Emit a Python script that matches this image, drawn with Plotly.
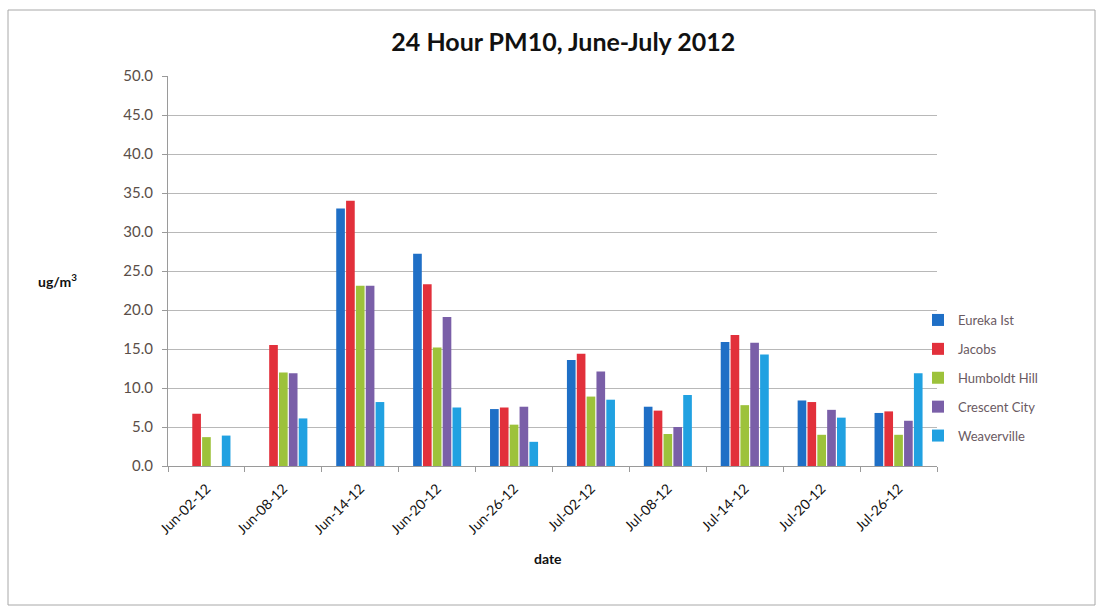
import plotly.graph_objects as go

# Sample dates (every 6 days)
dates = ["Jun-02-12", "Jun-08-12", "Jun-14-12", "Jun-20-12", "Jun-26-12",
         "Jul-02-12", "Jul-08-12", "Jul-14-12", "Jul-20-12", "Jul-26-12"]

# 24-hour PM10 concentrations, ug/m3 (None = no sample)
eureka_ist = [None, None, 33.0, 27.2, 7.3, 13.6, 7.6, 15.9, 8.4, 6.8]
jacobs = [6.7, 15.5, 34.0, 23.3, 7.5, 14.4, 7.1, 16.8, 8.2, 7.0]
humboldt_hill = [3.7, 12.0, 23.1, 15.2, 5.3, 8.9, 4.1, 7.8, 4.0, 4.0]
crescent_city = [None, 11.9, 23.1, 19.1, 7.6, 12.1, 5.0, 15.8, 7.2, 5.8]
weaverville = [3.9, 6.1, 8.2, 7.5, 3.1, 8.5, 9.1, 14.3, 6.2, 11.9]

series = [
    ("Eureka Ist", eureka_ist, "#1F6FC6"),
    ("Jacobs", jacobs, "#E2303B"),
    ("Humboldt Hill", humboldt_hill, "#9DC23B"),
    ("Crescent City", crescent_city, "#7A5FA8"),
    ("Weaverville", weaverville, "#21A1E1"),
]

W, H = 1105, 612
ML, MR, MT, MB = 168, 168, 76, 146
PW, PH = W - ML - MR, H - MT - MB

FONT = "Lato, Open Sans, sans-serif"

fig = go.Figure()
for i, (name, vals, color) in enumerate(series):
    fig.add_trace(go.Bar(
        x=dates, y=vals, name=name, marker_color=color,
        marker_line_width=0, legendgroup=f"g{i}",
    ))

def px_x(p):
    return (p - ML) / PW

def px_y(p):
    return (H - MB - p) / PH

fig.update_layout(
    width=W, height=H,
    margin=dict(l=ML, r=MR, t=MT, b=MB),
    paper_bgcolor="white", plot_bgcolor="white",
    barmode="group", bargap=0.36, bargroupgap=0.12,
    title=dict(text="<b>24 Hour PM10, June-July 2012</b>",
               x=px_x(560), xanchor="center", y=1 - 42 / H, yanchor="middle",
               font=dict(family=FONT, size=25, color="#111111")),
    showlegend=True,
    legend=dict(x=px_x(918), xanchor="left", y=px_y(305), yanchor="top",
                font=dict(family=FONT, size=13, color="#6A5A62"),
                tracegroupgap=9, itemwidth=30, bgcolor="rgba(0,0,0,0)"),
    xaxis=dict(type="category", showline=True, linecolor="#9A9A9A", linewidth=1,
               ticks="outside", tickson="boundaries", ticklen=5, tickcolor="#9A9A9A",
               tickangle=-45, showgrid=False, ticklabelstandoff=8,
               tickfont=dict(family=FONT, size=14, color="#111111")),
    yaxis=dict(range=[0, 50], dtick=5, tickformat=".1f", showline=True,
               linecolor="#9A9A9A", linewidth=1, ticks="outside", ticklen=5,
               tickcolor="#9A9A9A", showgrid=True, gridcolor="#B8B8B8", gridwidth=1,
               zeroline=False, ticklabelstandoff=6,
               tickfont=dict(family=FONT, size=15, color="#5A4E48")),
    annotations=[
        dict(text="<b>ug/m<sup>3</sup></b>", x=px_x(57), y=px_y(280), xref="paper", yref="paper",
             showarrow=False, xanchor="center", yanchor="middle",
             font=dict(family=FONT, size=14, color="#111111")),
        dict(text="<b>date</b>", x=px_x(548), y=px_y(558), xref="paper", yref="paper",
             showarrow=False, xanchor="center", yanchor="middle",
             font=dict(family=FONT, size=14, color="#111111")),
    ],
    shapes=[
        dict(type="rect", xref="paper", yref="paper",
             x0=px_x(8), x1=px_x(1095), y0=px_y(605), y1=px_y(10),
             line=dict(color="#A8A8A8", width=1), fillcolor="rgba(0,0,0,0)", layer="below"),
    ],
)

fig.write_html("out.html")
